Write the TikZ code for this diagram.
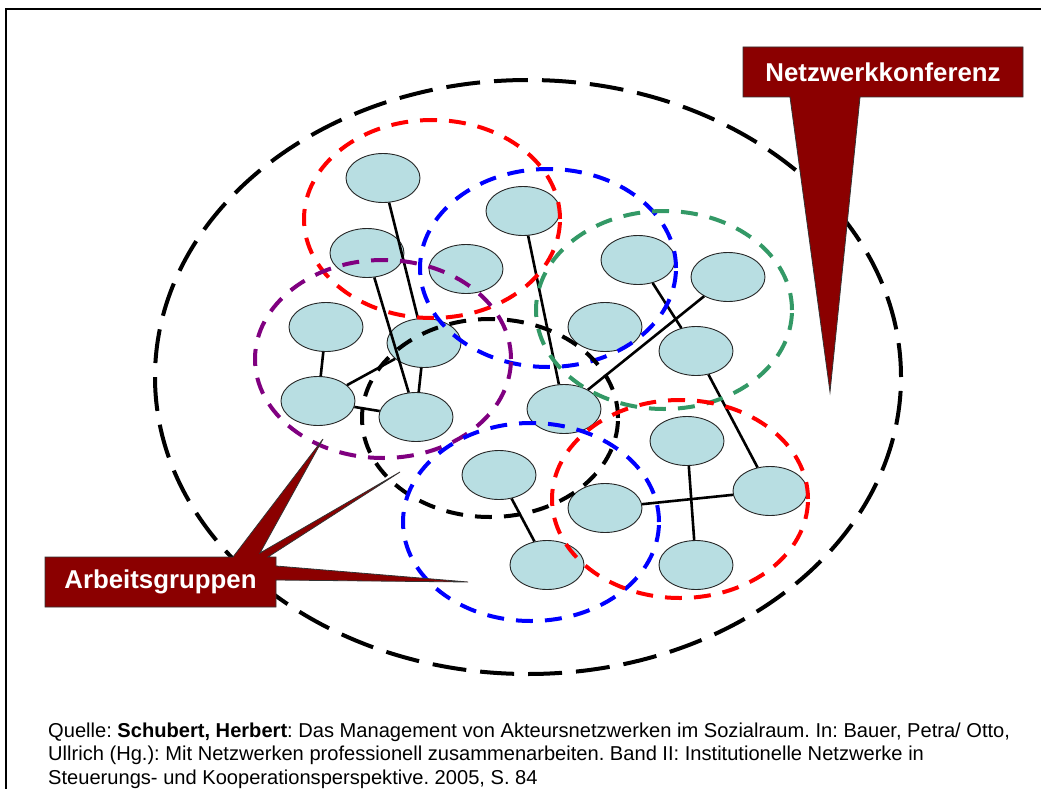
\documentclass[tikz,border=0pt]{standalone}
\usepackage{fontspec}
\setmainfont{Liberation Sans}
\usetikzlibrary{shapes.geometric}
\frenchspacing
\definecolor{nodeblue}{RGB}{184,222,226}
\definecolor{calloutred}{RGB}{139,0,0}
\definecolor{grpgreen}{RGB}{51,153,102}
\definecolor{grppurple}{RGB}{128,0,128}
\tikzset{
  actor/.style={ellipse, draw=black!85, line width=0.9pt, fill=nodeblue, minimum width=74pt, minimum height=49pt, inner sep=0pt},
  link/.style={line width=2.6pt, black},
  grp/.style={ellipse, line width=4pt, dash pattern=on 17pt off 12pt, minimum width=256pt, minimum height=198pt, inner sep=0pt},
  outer/.style={ellipse, draw=black, line width=4pt, dash pattern=on 34pt off 14pt, minimum width=746pt, minimum height=594pt, inner sep=0pt},
  callout/.style={fill=calloutred, draw=black!80, line width=0.8pt},
  callouttext/.style={text=white, font=\fontsize{25.8}{30}\selectfont\bfseries, inner sep=0pt},
  srctext/.style={anchor=base west, font=\fontsize{20.1}{24}\selectfont, inner sep=0pt}
}
\begin{document}
\begin{tikzpicture}[x=1pt,y=-1pt]
\useasboundingbox (0,0) rectangle (1041,789);
\fill[white] (0,0) rectangle (1041,789);
% frame
\draw[line width=2pt] (6,795) -- (6,9) -- (1045,9);

% outer conference ellipse
\node[outer] (konf) at (528,377) {};

% actors
\node[actor] (n1) at (383,178) {};
\node[actor] (n2) at (367,253) {};
\node[actor] (n3) at (466,269) {};
\node[actor] (n4) at (523,211) {};
\node[actor] (n5) at (326,327) {};
\node[actor] (n6) at (424,343) {};
\node[actor] (n7) at (318,401) {};
\node[actor] (n8) at (416,417) {};
\node[actor] (n9) at (638,260) {};
\node[actor] (n10) at (728,277) {};
\node[actor] (n11) at (605,327) {};
\node[actor] (n12) at (696,351) {};
\node[actor] (n13) at (564,409) {};
\node[actor] (n14) at (499,475) {};
\node[actor] (n15) at (605,508) {};
\node[actor] (n16) at (687,441) {};
\node[actor] (n17) at (770,491) {};
\node[actor] (n18) at (547,565) {};
\node[actor] (n19) at (696,565) {};

% links
\draw[link] (n1) -- (n6);
\draw[link] (n2) -- (n8);
\draw[link] (n5) -- (n7);
\draw[link] (n7) -- (n6);
\draw[link] (n7) -- (n8);
\draw[link] (n6) -- (n8);
\draw[link] (n4) -- (n13);
\draw[link] (n9) -- (n12);
\draw[link] (n10) -- (n13);
\draw[link] (n12) -- (n17);
\draw[link] (n14) -- (n18);
\draw[link] (n15) -- (n17);
\draw[link] (n16) -- (n19);

% working groups
\node[grp, draw=red] (gred1) at (432,219) {};
\node[grp, draw=blue] (gblue1) at (548,268) {};
\node[grp, draw=grpgreen] (ggreen) at (664,310) {};
\node[grp, draw=grppurple] (gpurple) at (383,359) {};
\node[grp, draw=black] (gblack) at (490,418) {};
\node[grp, draw=blue] (gblue2) at (531,522) {};
\node[grp, draw=red] (gred2) at (680,499) {};

% callout Netzwerkkonferenz
\draw[callout] (743,47) -- (1023,47) -- (1023,97) -- (860,97) -- (830,392) -- (790,97) -- (743,97) -- cycle;
\node[callouttext] (lkonf) at (883,72) {Netzwerkkonferenz};

% callout Arbeitsgruppen
\draw[callout] (45,557) -- (233,557) -- (323,439) -- (260,553) -- (400,472) -- (268,557) -- (276,557)
  -- (276,566) -- (468,582) -- (276,580) -- (276,607) -- (45,607) -- cycle;
\node[callouttext] (lag) at (160.5,582) {Arbeitsgruppen};

% source
\node[srctext] (src1) at (48,737) {Quelle: \textbf{Schubert, Herbert}: Das Management von Akteursnetzwerken im Sozialraum. In: Bauer, Petra/ Otto,};
\node[srctext] (src2) at (48,760.5) {Ullrich (Hg.): Mit Netzwerken professionell zusammenarbeiten. Band II: Institutionelle Netzwerke in};
\node[srctext] (src3) at (48,784) {Steuerungs- und Kooperationsperspektive. 2005, S. 84};
\end{tikzpicture}
\end{document}
